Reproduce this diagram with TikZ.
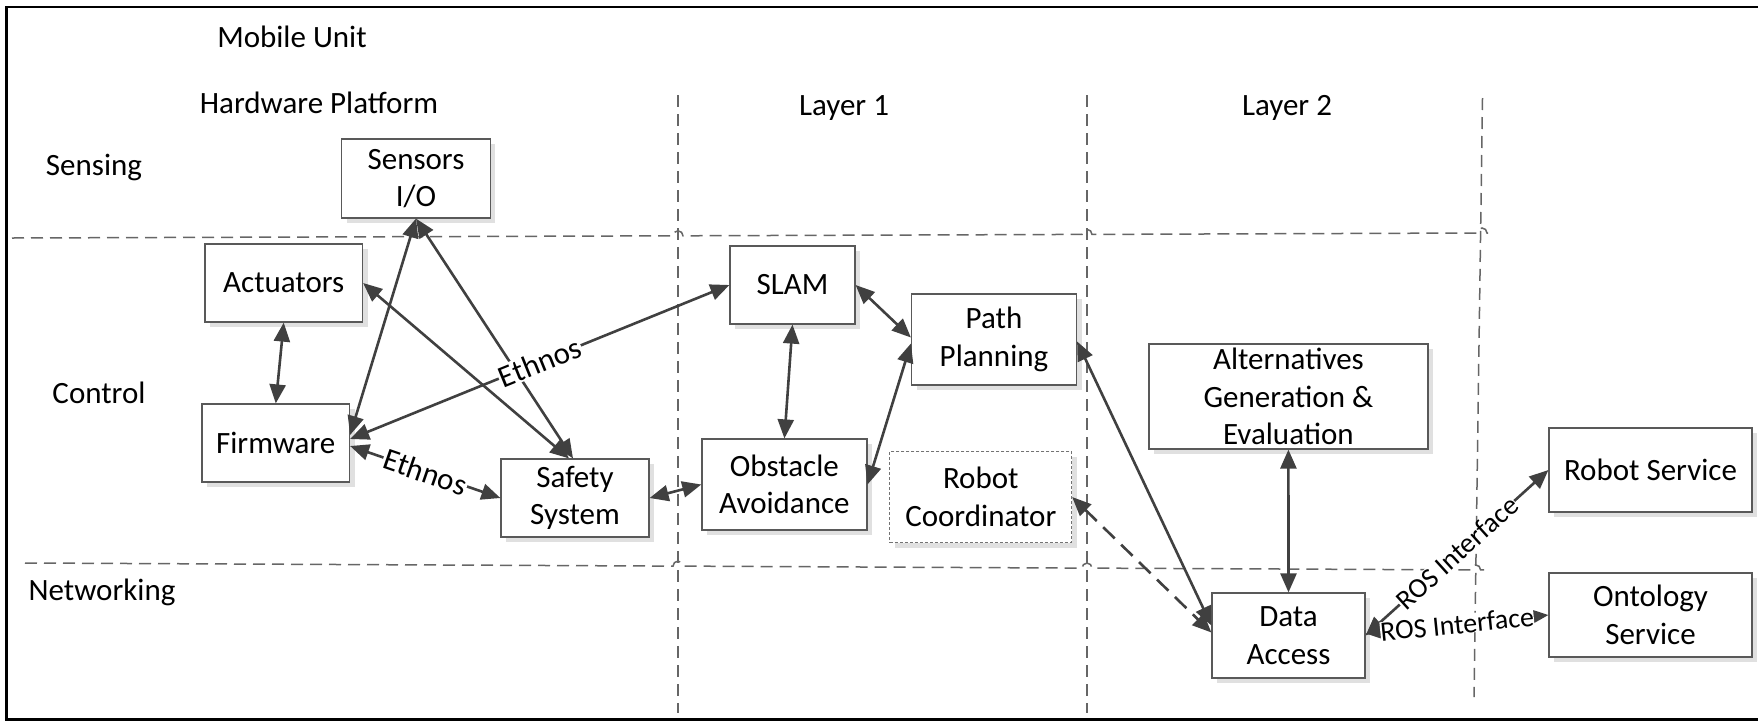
\documentclass[tikz,border=0pt]{standalone}
\usepackage{fontspec}
\setmainfont{Carlito}
\usetikzlibrary{arrows.meta,calc,shadows}
\begin{document}
\begin{tikzpicture}[x=1pt,y=-1pt,
  every node/.style={font=\fontsize{31}{37.5}\selectfont},
  box/.style={draw=black!65, line width=1.2pt, fill=white, align=center, inner sep=0pt,
    drop shadow={shadow xshift=5pt,shadow yshift=-5pt,fill=black!12,opacity=1}},
  dbox/.style={box, draw=black!55, line width=1pt, dash pattern=on 3pt off 2pt},
  sep/.style={draw=black!60, line width=1.5pt, dash pattern=on 12pt off 7pt},
  conn/.style={draw=black!75, line width=2.6pt,
    arrows={Triangle[length=19pt,width=16pt]-Triangle[length=19pt,width=16pt]}},
  dconn/.style={conn, dash pattern=on 16pt off 9pt},
  lab/.style={fill=white, inner sep=1pt, sloped, midway},
  rlab/.style={lab, inner sep=0pt, font=\fontsize{28}{34}\selectfont},
  txt/.style={inner sep=0pt}
]
\useasboundingbox (0,0) rectangle (1758,721);
\fill[white] (0,0) rectangle (1758,721);
% outer frame (open on the right)
\draw[line width=2.5pt] (1758,7) -- (6.5,7) -- (6.5,719.5) -- (1758,719.5);

% titles
\node[txt] (mobile) at (292,37) {Mobile Unit};
\node[txt] (hw) at (319,103) {Hardware Platform};
\node[txt] (layer1) at (844,108) {Layer 1};
\node[txt] (layer2) at (1287,108) {Layer 2};
\node[txt] (sensing) at (94,167) {Sensing};
\node[txt] (control) at (99,393) {Control};
\node[txt] (networking) at (102,592) {Networking};

% separators
\draw[sep] (678,95) -- (678,713);
\draw[sep] (1087,95) -- (1087,713);
\draw[sep] (1482.5,98) -- (1474,697);
\draw[sep] (12,238) -- (673,235.8) arc[start angle=180,end angle=360,radius=5]
  -- (1082,234.4) arc[start angle=180,end angle=360,radius=5]
  -- (1477,233) arc[start angle=180,end angle=360,radius=5] -- (1488,233);
\draw[sep] (25,563) -- (673,566.1) arc[start angle=180,end angle=360,radius=5]
  -- (1082,568.1) arc[start angle=180,end angle=360,radius=5]
  -- (1470.6,569.9) arc[start angle=180,end angle=360,radius=5] -- (1489,570);

% boxes
\node[box, minimum width=148.5pt, minimum height=79pt] (sensors) at (416,178.5) {Sensors\\I/O};
\node[box, minimum width=157.5pt, minimum height=78pt] (actuators) at (283.75,283) {Actuators};
\node[box, minimum width=147.5pt, minimum height=78pt] (firmware) at (275.75,443) {Firmware};
\node[box, minimum width=148pt, minimum height=78pt] (safety) at (575,498) {Safety\\System};
\node[box, minimum width=125pt, minimum height=78pt] (slam) at (792.5,285) {SLAM};
\node[box, minimum width=165pt, minimum height=91pt] (path) at (994,339.5) {Path\\Planning};
\node[box, minimum width=165pt, minimum height=91pt] (obstacle) at (784.4,484.5) {Obstacle\\Avoidance};
\node[dbox, minimum width=181.7pt, minimum height=91pt] (robotco) at (980.8,497) {Robot\\Coordinator};
\node[box, minimum width=279pt, minimum height=105pt] (alt) at (1288.4,396.5) {Alternatives\\Generation \&\\Evaluation};
\node[box, minimum width=203pt, minimum height=84pt] (robotsvc) at (1650.5,470) {Robot Service};
\node[box, minimum width=203pt, minimum height=84pt] (onto) at (1650.5,615) {Ontology\\Service};
\node[box, minimum width=153pt, minimum height=85pt] (data) at (1288.5,635.5) {Data\\Access};

% connectors
\draw[conn] (sensors.south) -- ($(firmware.east)+(0,-8)$);
\draw[conn] (sensors.south) -- ($(safety.north)+(-2,0)$);
\draw[conn] (actuators.east) -- ($(safety.north)+(-6,0)$);
\draw[conn] (actuators.south) -- (firmware.north);
\draw[conn] (slam.west) -- node[lab]{Ethnos} ($(firmware.east)+(0,-4)$);
\draw[conn] ($(firmware.east)+(0,3)$) -- node[lab]{Ethnos} (safety.west);
\draw[conn] (safety.east) -- (obstacle.west);
\draw[conn] (slam.south) -- (obstacle.north);
\draw[conn] (slam.east) -- ($(path.west)+(0,-2)$);
\draw[conn] (obstacle.east) -- ($(path.west)+(0,4)$);
\draw[conn] ($(path.east)+(0,2)$) -- ($(data.west)+(0,-10)$);
\draw[dconn] (robotco.east) -- ($(data.west)+(0,-3)$);
\draw[conn] (alt.south) -- (data.north);
\draw[conn] (data.east) -- node[rlab]{ROS Interface} (robotsvc.west);
\draw[conn] ($(data.east)+(0,-2)$) -- node[rlab]{ROS Interface} (onto.west);
\end{tikzpicture}
\end{document}
